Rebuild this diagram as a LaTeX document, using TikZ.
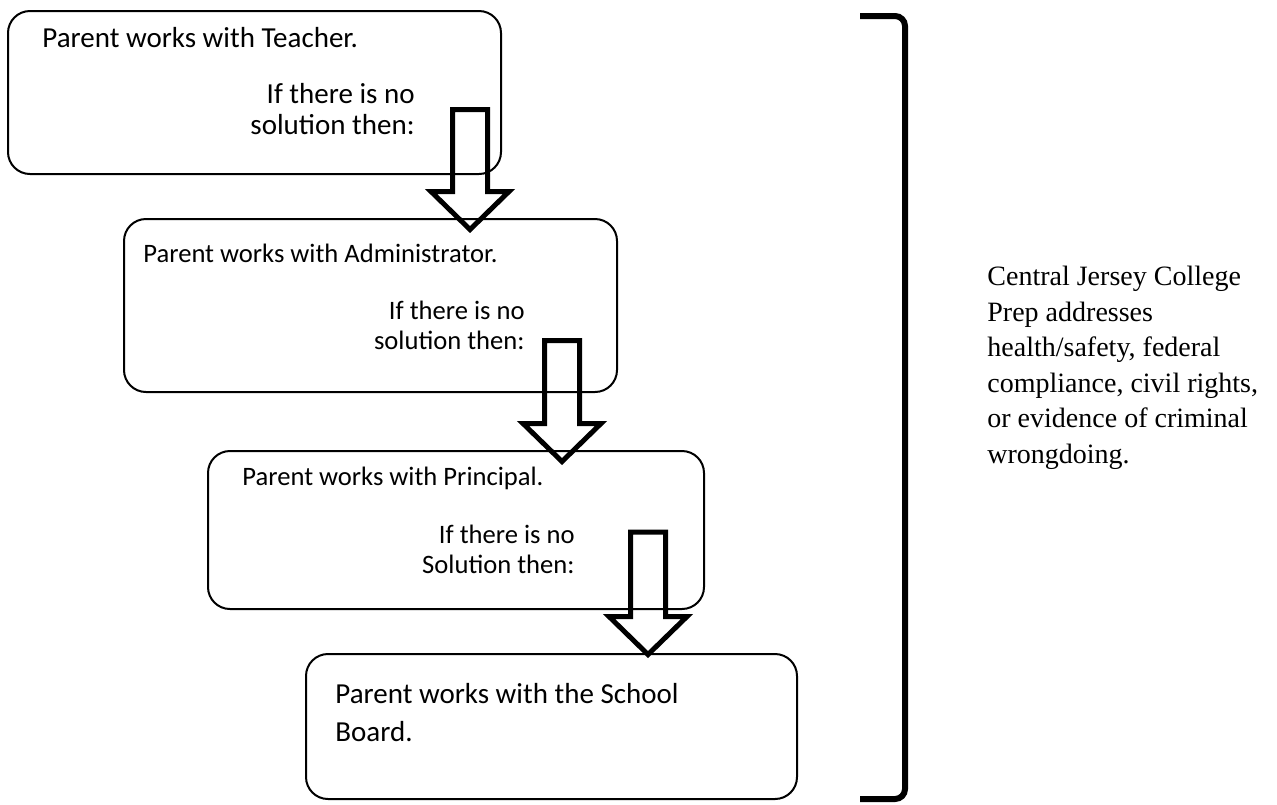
\documentclass[tikz,border=0pt]{standalone}
\usepackage{fontspec}
\setmainfont{Liberation Serif}
\newfontfamily\boxfont{Carlito}
\usetikzlibrary{calc,positioning}

% hollow block arrow from shaft top #1 down to tip #2
\newcommand{\blockarrow}[2]{%
  \draw[bigarrow] ($(#1)+(-17.5,0)$) -- ($(#2)+(-17.5,-38)$) -- ($(#2)+(-39,-38)$)
    -- (#2) -- ($(#2)+(39,-38)$) -- ($(#2)+(17.5,-38)$) -- ($(#1)+(17.5,0)$) -- cycle;}

\begin{document}
\begin{tikzpicture}[x=0.5pt,y=-0.5pt,
                    box/.style={draw,rounded corners=11pt,line width=1pt,inner sep=0pt,outer sep=0pt},
                    txt/.style={font=\boxfont\fontsize{14.5pt}{15.5pt}\selectfont,inner sep=0pt},
                    txts/.style={font=\boxfont\fontsize{13.3pt}{15pt}\selectfont,inner sep=0pt},
                    bigarrow/.style={line width=2.5pt,miter limit=10},
                    brace/.style={line width=3pt,rounded corners=5pt}]
  \useasboundingbox (0,0) rectangle (1277,804);

  \node[box,minimum width=246.5pt,minimum height=81.5pt] (b1) at (254.5,92.5) {};
  \node[box,minimum width=246.5pt,minimum height=86.5pt] (b2) at (370.5,305.5) {};
  \node[box,minimum width=248pt,minimum height=79pt]     (b3) at (456,530) {};
  \node[box,minimum width=245.5pt,minimum height=72.5pt] (b4) at (551.5,726.5) {};

  \node[txt,anchor=base west] (t1) at (42,47)   {Parent works with Teacher.};
  \node[txt,anchor=north east,align=right] (s1) at (415,83) {If there is no\\solution then:};
  \node[txts,anchor=base west] (t2) at (143,262) {Parent works with Administrator.};
  \node[txts,anchor=north east,align=right] (s2) at (525,300.5) {If there is no\\solution then:};
  \node[txts,anchor=base west] (t3) at (242,485) {Parent works with Principal.};
  \node[txts,anchor=north east,align=right] (s3) at (575,524.5) {If there is no\\Solution then:};
  \node[txt,anchor=north west,align=left,font=\boxfont\fontsize{14.5pt}{19pt}\selectfont]
       (t4) at (335,683) {Parent works with the School\\Board.};

  \coordinate (a1) at (470,109.5); \coordinate (a1tip) at (470,229.5);
  \coordinate (a2) at (562,340.5); \coordinate (a2tip) at (562,461.5);
  \coordinate (a3) at (648,532);   \coordinate (a3tip) at (648,654.5);
  \blockarrow{a1}{a1tip}
  \blockarrow{a2}{a2tip}
  \blockarrow{a3}{a3tip}

  \draw[brace] (860,16) -- (905,16) -- (905,799) -- (860,799);

  \node[anchor=north west,align=left,inner sep=0pt,font=\fontsize{14pt}{17.75pt}\selectfont]
       (note) at (987,266) {Central Jersey College\\Prep addresses\\health/safety, federal\\compliance, civil rights,\\or evidence of criminal\\wrongdoing.};
\end{tikzpicture}
\end{document}
